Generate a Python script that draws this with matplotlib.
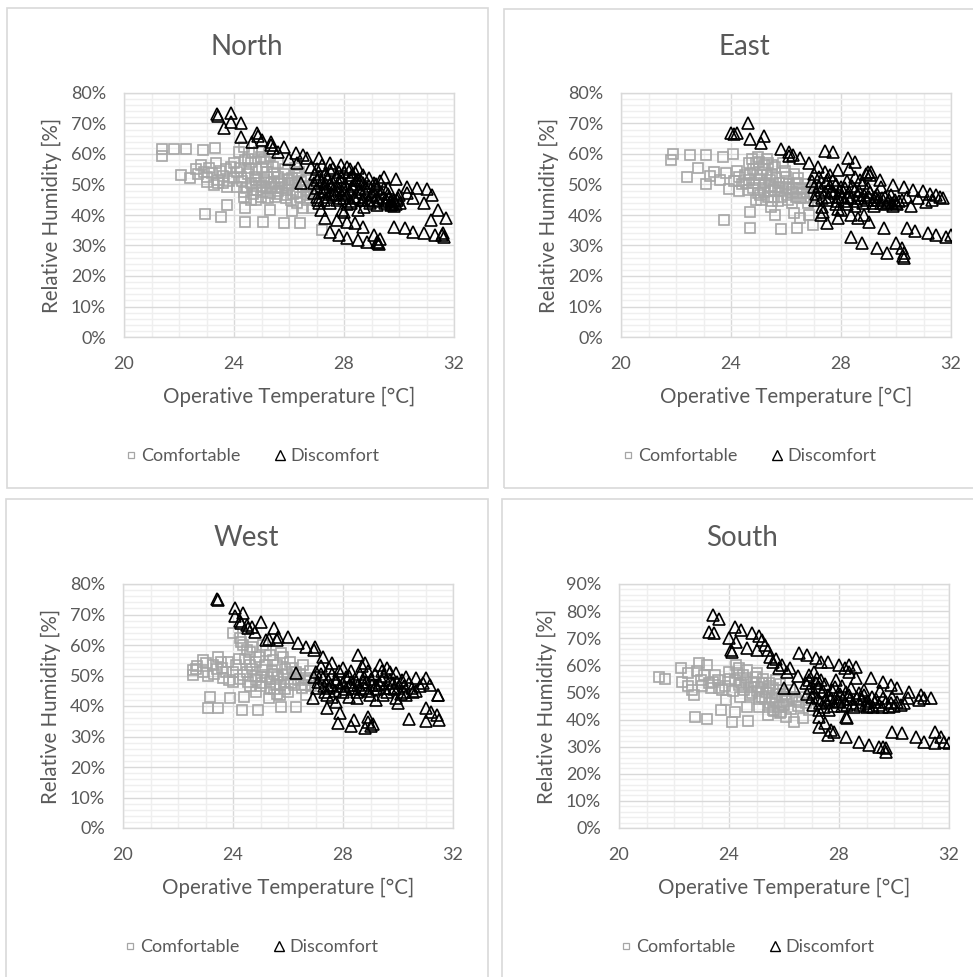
import matplotlib
matplotlib.use("Agg")
import matplotlib.pyplot as plt
from matplotlib.lines import Line2D
from matplotlib.patches import Rectangle
from matplotlib.ticker import MultipleLocator, FuncFormatter

plt.rcParams['font.family'] = ['Lato', 'DejaVu Sans']

# ---------------- data (operative temperature [degC], relative humidity [%]) ----------------
north_comf = [
    (21.37, 61.7), (21.37, 59.3), (21.8, 61.5), (22.24, 61.5), (22.87, 61.3), (23.3, 61.9),
    (22.06, 53.1), (22.39, 52.0), (22.8, 56.4), (22.9, 54.2), (23.0, 50.9), (23.4, 50.4),
    (23.33, 56.9), (23.2, 53.7), (23.6, 52.8), (23.9, 55.8), (24.0, 52.0), (24.18, 60.8),
    (24.36, 62.4), (24.67, 60.2), (24.97, 59.1), (24.6, 57.5), (25.15, 57.5), (25.4, 55.8),
    (24.1, 49.3), (24.36, 47.7), (24.6, 50.4), (24.85, 48.2), (25.1, 51.5), (25.33, 49.3),
    (25.5, 46.0), (25.7, 50.4), (25.94, 48.2), (26.1, 52.0), (26.3, 47.7), (26.5, 49.3),
    (26.8, 47.1), (25.3, 47.1), (24.97, 46.0), (24.6, 44.9), (25.6, 52.6), (26.06, 44.9),
    (26.36, 54.2), (26.67, 44.9), (23.27, 49.8), (23.76, 49.3), (24.24, 52.6), (22.95, 40.2),
    (23.54, 39.2), (23.73, 43.2), (24.39, 42.4), (24.4, 37.6), (25.05, 37.6), (25.3, 41.6),
    (25.8, 37.5), (26.1, 41.4), (26.4, 37.5), (26.5, 42.2), (26.85, 42.2), (24.36, 46.0),
    (24.8, 44.9), (27.2, 35.0), (23.5, 54.5), (23.8, 51.0), (24.5, 53.5), (24.8, 55.0),
    (25.2, 54.0), (25.8, 53.5), (26.0, 50.5), (26.6, 51.5), (25.0, 49.5), (25.6, 48.0),
    (24.2, 55.5), (24.5, 58.5), (25.0, 61.0), (25.6, 57.0), (26.2, 55.5), (22.7, 53.5),
    (23.1, 55.5), (25.9, 45.5), (26.3, 44.0), (24.8, 51.5), (25.45, 50.8), (26.9, 50.0),
]
north_comf_core = [
    (24.1, 54.0), (24.3, 51.0), (24.45, 49.0), (24.55, 55.5), (24.7, 47.0), (24.75, 52.5),
    (24.9, 50.5), (25.0, 55.5), (25.05, 47.5), (25.2, 52.5), (25.25, 45.5), (25.35, 50.5),
    (25.45, 53.5), (25.55, 47.0), (25.65, 51.0), (25.75, 49.0), (25.85, 55.0), (25.9, 46.5),
    (26.0, 49.5), (26.15, 47.0), (26.2, 50.5), (26.3, 53.0), (26.4, 46.0), (26.45, 51.0),
    (26.6, 48.0), (26.7, 46.5), (26.75, 49.5), (26.9, 48.5), (25.1, 58.5), (24.9, 60.5),
    (25.3, 59.5), (24.4, 58.0), (24.0, 57.0), (23.6, 50.5), (23.0, 52.5), (23.4, 51.5),
    (23.7, 55.0), (22.6, 55.0), (25.5, 49.0), (25.95, 51.5), (24.65, 49.5), (25.15, 49.0),
]
north_disc = [
    (23.37, 73.1), (23.4, 72.6), (23.9, 73.3), (23.64, 68.4), (23.9, 70.6), (24.24, 70.1),
    (24.27, 65.5), (24.67, 63.8), (24.82, 66.8), (24.87, 65.9), (25.33, 64.0), (25.35, 63.0),
    (25.4, 61.9), (25.8, 62.4), (26.24, 60.2), (26.42, 50.4), (26.67, 58.6), (27.1, 58.6),
    (27.5, 56.9), (27.9, 56.4), (28.1, 55.8), (28.5, 55.3), (28.9, 52.0), (29.45, 52.3),
    (29.9, 51.8), (30.3, 49.3), (30.67, 48.7), (31.0, 48.4), (31.2, 46.6), (30.5, 45.5),
    (30.9, 43.8), (29.7, 44.4), (29.2, 46.0), (28.7, 44.9), (28.36, 46.0), (28.0, 47.1),
    (27.6, 48.2), (27.3, 49.3), (27.0, 51.5), (26.9, 47.1), (27.27, 44.9), (27.76, 44.9),
    (28.24, 43.8), (28.73, 42.7), (29.2, 43.3), (29.7, 43.3), (29.94, 44.9), (27.15, 41.6),
    (27.3, 38.9), (27.76, 38.4), (28.1, 37.8), (28.4, 37.3), (28.7, 36.2), (27.5, 34.5),
    (27.8, 33.4), (28.1, 32.3), (28.5, 31.8), (28.85, 31.3), (29.1, 33.4), (29.2, 31.3),
    (29.27, 30.5), (27.94, 41.6), (28.5, 41.6), (29.8, 36.2), (30.2, 35.6), (30.5, 34.5),
    (30.9, 34.0), (31.3, 33.4), (31.6, 34.0), (31.65, 32.9), (31.7, 38.9), (31.4, 41.6),
    (31.15, 38.4), (30.3, 47.1), (29.6, 48.7), (29.1, 50.4), (28.5, 51.5), (28.0, 54.2),
    (27.5, 54.8), (26.8, 55.8), (26.5, 59.7), (26.3, 56.9), (25.0, 64.5), (25.6, 60.5),
    (26.0, 58.5), (29.3, 32.0), (28.0, 41.0), (29.25, 30.9), (31.55, 33.5),
]
north_disc_core = [
    (26.9, 50.5), (27.0, 46.0), (27.1, 44.0), (27.2, 51.0), (27.3, 48.0), (27.4, 52.0),
    (27.45, 47.0), (27.5, 50.0), (27.6, 46.5), (27.7, 52.5), (27.75, 49.5), (27.85, 45.5),
    (27.9, 51.0), (28.0, 48.5), (28.05, 50.0), (28.1, 46.5), (28.2, 52.0), (28.25, 44.5),
    (28.3, 49.5), (28.4, 45.5), (28.45, 51.5), (28.55, 48.5), (28.65, 45.0), (28.7, 50.5),
    (28.8, 47.0), (28.9, 49.5), (28.95, 44.0), (29.05, 48.0), (29.15, 50.0), (29.25, 45.0),
    (29.35, 47.5), (29.45, 49.0), (29.55, 44.5), (29.65, 46.0), (29.75, 43.5), (29.85, 44.5),
    (29.95, 45.5), (30.05, 44.0), (29.8, 43.0), (29.7, 44.8), (27.0, 55.0), (27.2, 56.5),
    (27.8, 54.0), (28.4, 54.0), (28.7, 53.0), (29.3, 51.0), (27.0, 49.0), (27.2, 47.5),
    (27.4, 46.0), (27.6, 50.5), (27.8, 48.5), (28.0, 45.5), (28.2, 48.0), (28.4, 50.0),
    (28.6, 47.5), (28.8, 49.0), (29.0, 46.5), (29.2, 48.5), (29.4, 45.5), (29.6, 47.0),
    (29.8, 45.0), (30.0, 46.5), (27.1, 52.5), (27.3, 53.5), (27.9, 52.5), (28.3, 53.0),
    (28.6, 51.0), (27.5, 44.0), (28.1, 43.5), (28.9, 45.0), (29.5, 44.0), (29.9, 43.5),
    (27.05, 45.0), (27.3, 50.5), (27.7, 47.0), (28.5, 46.0), (29.1, 44.5), (26.95, 53.5),
    (27.6, 55.5), (28.2, 55.0),
]
east_comf = [
    (21.8, 58.0), (21.9, 59.9), (22.5, 59.7), (23.1, 59.7), (23.7, 59.1), (24.06, 59.9),
    (22.4, 52.3), (23.1, 50.2), (23.37, 54.2), (23.25, 52.8), (23.8, 53.7), (24.2, 54.5),
    (23.94, 48.4), (24.3, 48.0), (24.67, 51.5), (24.67, 56.9), (24.97, 59.1), (25.2, 56.4),
    (25.1, 53.1), (24.85, 50.4), (25.4, 51.5), (25.6, 55.8), (25.7, 49.3), (26.0, 52.6),
    (26.2, 47.7), (25.8, 46.0), (25.33, 46.0), (24.97, 47.1), (26.4, 50.4), (26.6, 47.1),
    (25.45, 42.7), (24.7, 41.1), (24.7, 35.8), (23.73, 38.4), (25.6, 40.0), (26.3, 40.5),
    (26.5, 38.9), (26.85, 40.0), (26.97, 36.7), (25.8, 35.4), (26.4, 35.8), (25.1, 44.9),
    (24.6, 48.2), (25.6, 48.2), (26.06, 44.9), (24.1, 51.0), (24.5, 53.0), (24.8, 55.0),
    (25.0, 57.5), (25.3, 58.5), (25.5, 53.5), (25.9, 50.5), (26.3, 53.5), (26.7, 50.0),
    (26.5, 45.5), (25.2, 49.0), (24.9, 45.0), (25.5, 44.5), (26.1, 48.5), (24.4, 50.0),
    (23.6, 51.5), (22.8, 55.5), (26.8, 44.0), (25.9, 57.0),
]
east_comf_core = [
    (24.7, 53.5), (24.8, 49.0), (24.9, 57.0), (25.0, 51.5), (25.05, 46.5), (25.15, 55.0),
    (25.25, 50.5), (25.3, 53.0), (25.4, 48.0), (25.5, 56.5), (25.55, 46.0), (25.65, 52.0),
    (25.75, 50.5), (25.85, 48.0), (25.95, 54.5), (26.05, 46.5), (26.1, 50.0), (26.25, 49.0),
    (26.35, 46.0), (26.45, 52.0), (26.55, 48.5), (26.65, 45.5), (26.75, 47.5), (26.85, 49.0),
    (24.75, 58.5), (25.35, 57.0), (24.55, 50.5), (24.3, 52.5), (25.7, 44.5), (26.2, 44.0),
    (25.2, 47.5), (24.95, 53.0), (26.9, 46.0), (26.0, 49.0), (25.45, 49.5),
]
east_disc = [
    (24.0, 66.8), (24.2, 66.8), (24.1, 66.5), (24.6, 70.1), (24.7, 64.9), (25.2, 65.9),
    (25.1, 63.7), (25.8, 61.5), (26.1, 60.8), (26.24, 59.7), (26.1, 59.5), (26.5, 58.6),
    (26.85, 56.9), (27.4, 61.1), (27.7, 60.5), (28.24, 58.6), (28.5, 57.5), (27.9, 54.8),
    (28.97, 54.2), (29.1, 54.2), (29.45, 49.3), (29.9, 49.8), (30.3, 49.1), (30.6, 48.2),
    (30.97, 48.0), (31.45, 46.6), (31.7, 45.5), (30.55, 43.0), (31.1, 44.4), (27.15, 55.8),
    (27.4, 54.2), (27.5, 51.5), (28.5, 52.6), (27.27, 48.2), (27.76, 47.1), (28.24, 46.0),
    (28.73, 45.5), (29.2, 44.9), (29.7, 44.4), (30.2, 44.9), (27.5, 44.9), (28.0, 49.3),
    (28.5, 48.2), (28.97, 48.7), (27.0, 49.3), (27.27, 40.0), (27.5, 37.3), (27.9, 38.9),
    (28.36, 40.0), (28.85, 40.0), (29.0, 37.8), (28.36, 32.9), (28.75, 30.7), (29.3, 29.1),
    (29.67, 27.4), (29.55, 35.6), (30.0, 30.7), (30.2, 29.1), (30.3, 27.4), (30.3, 26.0),
    (30.4, 35.6), (30.7, 34.9), (31.15, 34.0), (31.45, 33.4), (31.8, 32.9), (32.0, 33.4),
    (28.6, 39.0), (28.0, 41.5), (30.25, 26.7), (31.6, 46.0), (31.25, 47.0),
]
east_disc_core = [
    (27.1, 47.0), (27.3, 45.5), (27.6, 49.5), (27.9, 46.0), (28.1, 44.5), (28.3, 47.5),
    (28.6, 46.5), (28.8, 44.0), (29.0, 46.0), (29.3, 47.0), (29.5, 45.5), (29.8, 46.5),
    (30.0, 44.0), (30.4, 46.0), (27.2, 52.5), (27.7, 51.5), (28.2, 51.0), (28.8, 50.5),
    (29.4, 51.5), (27.0, 53.5), (27.3, 42.5), (27.8, 43.5), (28.5, 43.0), (29.2, 43.0),
    (29.9, 43.0), (30.8, 45.5), (31.3, 45.0), (26.95, 51.0), (27.05, 45.0), (27.2, 49.5),
    (27.4, 47.5), (27.45, 50.5), (27.55, 46.0), (27.65, 48.0), (27.8, 50.0), (27.85, 44.5),
    (27.95, 48.0), (28.05, 46.0), (28.15, 49.0), (28.2, 43.5), (28.35, 45.5), (28.4, 49.5),
    (28.55, 44.5), (28.65, 48.0), (28.7, 51.5), (28.85, 46.5), (28.95, 45.0), (29.05, 47.5),
    (29.15, 44.0), (29.25, 46.0), (29.35, 45.0), (29.45, 43.8), (29.6, 46.0), (29.65, 43.5),
    (29.75, 45.0), (29.85, 44.0), (29.95, 45.0), (30.05, 43.5), (30.1, 44.5), (28.9, 53.5),
    (29.05, 53.0), (27.6, 53.0), (28.3, 55.0), (27.35, 41.0), (27.9, 42.0),
]
west_comf = [
    (22.55, 51.8), (22.55, 50.2), (22.9, 55.1), (22.9, 51.3), (23.27, 53.4), (23.45, 56.2),
    (23.6, 52.3), (24.0, 51.3), (24.0, 63.8), (24.24, 62.2), (24.36, 60.0), (24.6, 57.8),
    (24.85, 54.5), (25.1, 51.8), (25.33, 56.7), (25.6, 53.4), (25.8, 50.2), (26.06, 54.5),
    (26.3, 51.3), (26.55, 53.4), (25.7, 46.9), (25.33, 48.0), (24.85, 48.5), (24.36, 50.2),
    (24.0, 48.0), (23.64, 49.1), (23.15, 43.1), (23.45, 39.5), (23.1, 39.5), (23.9, 42.7),
    (24.33, 38.7), (24.4, 43.1), (24.9, 38.7), (25.3, 42.5), (25.75, 39.8), (26.3, 39.8),
    (26.67, 43.6), (25.7, 43.6), (24.85, 44.7), (26.2, 46.9), (26.67, 49.1), (24.6, 53.4),
    (25.1, 60.0), (22.7, 53.0), (23.1, 50.0), (23.8, 54.5), (24.2, 55.5), (24.5, 51.0),
    (25.0, 49.5), (25.5, 50.5), (25.9, 52.0), (26.2, 49.0), (25.5, 45.5), (25.0, 46.5),
    (24.6, 46.5), (26.0, 44.5), (26.5, 46.0), (25.2, 58.0), (25.8, 56.0), (24.7, 59.5),
    (23.4, 52.0), (26.8, 51.5),
]
west_comf_core = [
    (23.0, 54.0), (23.3, 50.5), (23.55, 54.5), (23.75, 51.0), (23.85, 48.5), (24.1, 53.5),
    (24.25, 49.0), (24.45, 55.5), (24.55, 48.0), (24.7, 52.0), (24.8, 50.0), (24.95, 56.0),
    (25.05, 47.5), (25.15, 53.5), (25.25, 49.5), (25.4, 51.5), (25.45, 55.0), (25.55, 47.0),
    (25.65, 49.5), (25.75, 57.5), (25.85, 48.0), (25.95, 50.5), (26.1, 47.5), (26.15, 52.5),
    (26.35, 48.5), (26.45, 50.5), (26.6, 47.0), (26.75, 48.5), (25.6, 44.0), (25.9, 45.5),
    (24.3, 61.0), (24.5, 58.5), (22.65, 52.0), (25.35, 45.5), (26.85, 46.5),
]
west_disc = [
    (23.4, 75.1), (23.45, 74.6), (24.06, 72.2), (24.36, 70.4), (24.06, 69.4), (24.3, 67.1),
    (24.55, 65.5), (24.8, 64.4), (25.03, 67.4), (25.5, 65.5), (25.2, 61.6), (25.6, 61.6),
    (25.65, 62.5), (26.0, 62.7), (26.36, 60.5), (26.67, 59.5), (26.97, 59.5), (27.27, 56.2),
    (26.3, 50.7), (27.6, 54.0), (28.0, 52.3), (28.55, 56.7), (28.8, 54.0), (29.33, 53.4),
    (29.7, 51.3), (29.94, 50.7), (30.3, 49.6), (30.67, 49.1), (31.03, 49.1), (31.15, 46.9),
    (31.45, 43.6), (27.27, 49.1), (27.76, 48.0), (28.24, 46.9), (28.73, 48.0), (29.2, 46.9),
    (29.7, 45.8), (30.2, 44.7), (30.55, 44.7), (27.0, 51.3), (27.5, 45.8), (28.0, 44.7),
    (28.5, 44.7), (28.97, 43.6), (29.45, 43.6), (29.94, 42.5), (26.9, 42.5), (27.4, 39.2),
    (27.9, 37.6), (28.4, 35.4), (28.9, 36.5), (28.9, 34.9), (27.76, 41.4), (28.5, 42.5),
    (27.8, 34.3), (28.3, 33.3), (28.8, 32.8), (29.1, 34.0), (29.0, 33.5), (30.4, 35.6),
    (31.0, 35.2), (31.0, 39.2), (31.2, 38.1), (31.4, 37.0), (31.5, 35.4), (31.45, 43.6),
    (26.95, 58.5), (24.7, 66.0), (25.3, 62.0), (24.5, 66.5), (24.25, 68.0),
]
west_disc_core = [
    (27.1, 48.0), (27.3, 46.5), (27.6, 50.5), (27.9, 46.5), (28.1, 49.5), (28.3, 48.0),
    (28.6, 50.5), (28.8, 46.0), (29.0, 49.0), (29.3, 47.5), (29.5, 50.0), (29.8, 47.5),
    (30.0, 46.0), (30.4, 47.5), (30.8, 46.5), (27.2, 53.0), (27.5, 52.5), (28.3, 51.5),
    (28.9, 51.5), (29.6, 52.5), (27.4, 43.5), (28.2, 43.0), (29.2, 42.0), (30.0, 41.0),
    (26.95, 49.5), (27.05, 46.0), (27.2, 50.5), (27.35, 44.5), (27.45, 48.5), (27.55, 47.0),
    (27.7, 45.0), (27.75, 49.0), (27.85, 51.5), (28.0, 47.5), (28.1, 45.5), (28.2, 50.0),
    (28.35, 46.0), (28.45, 49.0), (28.55, 47.0), (28.65, 45.5), (28.75, 49.5), (28.85, 48.0),
    (28.95, 45.0), (29.05, 47.0), (29.15, 50.5), (29.25, 45.5), (29.4, 48.5), (29.5, 46.0),
    (29.6, 44.5), (29.7, 48.5), (29.85, 45.5), (29.95, 48.0), (30.1, 44.0), (30.2, 46.5),
    (30.3, 43.5), (30.5, 46.0), (30.65, 45.0), (28.7, 53.0), (29.4, 51.5), (30.15, 48.5),
    (30.9, 47.5), (27.6, 43.0),
]
south_comf = [
    (21.45, 55.8), (21.66, 54.8), (22.24, 58.9), (22.5, 57.1), (22.3, 54.0), (22.67, 50.9),
    (22.73, 49.1), (22.9, 60.7), (23.2, 60.1), (22.97, 54.6), (23.27, 53.4), (23.5, 56.4),
    (23.64, 51.5), (24.0, 57.7), (24.24, 60.1), (24.5, 56.4), (24.67, 58.3), (24.36, 52.7),
    (24.8, 52.1), (24.97, 55.8), (25.2, 53.4), (25.45, 50.9), (25.7, 54.6), (25.94, 48.4),
    (25.8, 44.8), (25.5, 46.0), (25.2, 48.4), (24.85, 49.7), (26.2, 50.9), (26.42, 47.2),
    (26.67, 48.4), (23.76, 50.9), (23.9, 47.2), (23.4, 54.0), (22.76, 40.8), (23.2, 40.1),
    (23.7, 43.5), (24.2, 42.7), (24.1, 39.2), (24.7, 39.6), (24.67, 44.8), (25.1, 44.8),
    (25.4, 41.7), (25.9, 42.9), (26.36, 39.2), (26.7, 40.5), (26.9, 43.5), (26.06, 41.1),
    (24.2, 54.5), (24.6, 54.0), (25.0, 50.5), (25.5, 52.5), (25.8, 51.0), (25.6, 43.5),
    (25.3, 47.5), (24.4, 48.5), (23.0, 52.5), (26.0, 45.5), (26.5, 45.0), (25.0, 57.0),
]
south_comf_core = [
    (23.1, 56.5), (23.35, 51.5), (23.6, 54.5), (23.85, 52.5), (24.05, 55.0), (24.15, 50.5),
    (24.3, 57.0), (24.45, 53.5), (24.55, 51.0), (24.65, 55.5), (24.75, 49.0), (24.9, 54.0),
    (25.05, 52.0), (25.1, 47.5), (25.25, 55.0), (25.35, 50.0), (25.45, 53.5), (25.55, 48.0),
    (25.6, 51.5), (25.7, 46.5), (25.75, 49.5), (25.85, 53.0), (25.95, 45.5), (26.05, 49.5),
    (26.1, 47.0), (26.3, 48.5), (26.55, 46.5), (26.8, 46.0), (25.65, 43.0), (25.85, 42.5),
    (24.35, 59.0), (22.5, 52.5), (22.85, 58.0), (25.4, 44.5), (26.25, 44.0),
]
south_disc = [
    (23.4, 78.6), (23.64, 77.0), (23.27, 72.4), (23.45, 72.0), (24.2, 74.0), (24.45, 73.0),
    (24.0, 70.0), (24.24, 68.7), (24.06, 65.7), (24.67, 66.3), (24.85, 71.8), (25.1, 70.8),
    (25.2, 69.3), (25.03, 65.7), (25.4, 65.7), (25.5, 63.2), (25.6, 61.4), (25.94, 60.1),
    (26.2, 58.9), (26.55, 64.4), (26.85, 63.8), (27.15, 62.6), (27.33, 61.4), (27.6, 61.4),
    (28.0, 60.1), (28.36, 60.1), (28.6, 59.5), (28.36, 57.7), (28.6, 55.2), (27.88, 54.6),
    (29.15, 55.2), (29.6, 54.0), (29.9, 52.7), (30.1, 51.5), (30.55, 50.3), (30.97, 49.1),
    (31.33, 47.8), (29.94, 48.4), (30.36, 46.0), (30.9, 47.2), (26.0, 51.5), (26.36, 51.5),
    (26.8, 53.4), (27.27, 43.5), (27.27, 41.1), (27.5, 38.6), (27.7, 36.1), (27.6, 34.3),
    (27.27, 37.4), (27.8, 35.4), (28.24, 41.1), (28.24, 33.7), (28.73, 31.8), (29.1, 30.6),
    (29.45, 30.0), (29.7, 29.4), (29.7, 28.0), (29.6, 30.0), (29.94, 35.5), (30.3, 34.9),
    (30.8, 33.7), (31.1, 31.8), (31.5, 35.5), (31.7, 33.7), (31.8, 31.8), (32.0, 31.2),
    (31.5, 31.2), (25.8, 59.0), (26.1, 57.5), (26.5, 56.0), (26.9, 54.5), (25.3, 67.5),
    (25.7, 62.5), (28.2, 59.0), (28.3, 40.5), (24.1, 65.0), (31.1, 48.0),
]
south_disc_core = [
    (27.0, 48.4), (27.5, 47.2), (28.0, 46.6), (28.5, 46.0), (28.97, 46.0), (29.45, 45.4),
    (29.2, 48.4), (28.73, 49.7), (28.24, 50.3), (27.76, 50.9), (27.27, 52.1), (27.1, 50.0),
    (27.3, 46.0), (27.6, 49.0), (27.9, 48.5), (28.1, 45.0), (28.4, 47.5), (28.8, 47.5),
    (29.0, 44.5), (29.3, 46.5), (29.7, 46.5), (30.0, 45.0), (30.5, 48.0), (27.2, 55.5),
    (27.5, 53.0), (28.1, 52.5), (28.9, 51.0), (29.5, 50.5), (26.95, 51.5), (27.05, 45.5),
    (27.15, 53.5), (27.25, 48.0), (27.4, 50.5), (27.45, 44.5), (27.55, 46.5), (27.7, 48.0),
    (27.8, 45.0), (27.85, 52.0), (27.95, 47.0), (28.05, 49.5), (28.15, 47.5), (28.3, 45.5),
    (28.35, 49.0), (28.45, 51.5), (28.55, 44.8), (28.65, 48.0), (28.75, 45.5), (28.9, 49.0),
    (29.05, 47.0), (29.1, 45.0), (29.25, 44.5), (29.35, 47.5), (29.55, 44.8), (29.6, 48.0),
    (29.8, 44.5), (29.9, 46.0), (30.1, 46.5), (30.25, 45.5), (26.9, 56.5), (27.1, 57.5),
    (27.35, 54.5), (26.85, 49.5), (27.65, 43.5),
]

titles = ["North", "East", "West", "South"]
panels_comf = [north_comf + north_comf_core, east_comf + east_comf_core,
               west_comf + west_comf_core, south_comf + south_comf_core]
panels_disc = [north_disc + north_disc_core, east_disc + east_disc_core,
               west_disc + west_disc_core, south_disc + south_disc_core]
y_max = [80, 80, 80, 90]
x_ticks = [20, 24, 28, 32]
series_names = ["Comfortable", "Discomfort"]
x_label = "Operative Temperature [°C]"
y_label = "Relative Humidity [%]"

# ---------------- layout ----------------
W, H = 973, 977
fig = plt.figure(figsize=(W / 100, H / 100), dpi=100)
fig.patch.set_facecolor("white")

ax_px = [(124, 93, 454, 337), (621, 93, 951, 337), (123, 584, 453, 828), (619, 584, 949, 828)]
panel_px = [(7, 8, 488, 488), (504, 9, 990, 488), (6, 499, 488, 990), (502, 499, 990, 990)]

TXT = "#595959"
GRID_MAJ = "#D9D9D9"
GRID_MIN = "#EFEFEF"
COMF_C = "#A6A6A6"

for (l, t, r, b) in panel_px:
    fig.patches.append(Rectangle((l / W, 1 - b / H), (r - l) / W, (b - t) / H,
                                 transform=fig.transFigure, fill=False,
                                 edgecolor=GRID_MAJ, linewidth=1.2, clip_on=False))

for i in range(4):
    l, t, r, b = ax_px[i]
    ax = fig.add_axes([l / W, 1 - b / H, (r - l) / W, (b - t) / H])
    comf = panels_comf[i]
    disc = panels_disc[i]
    ax.plot([p[0] for p in comf], [p[1] for p in comf], linestyle="none", marker="s",
            markersize=6.6, markerfacecolor="none", markeredgecolor=COMF_C,
            markeredgewidth=1.2, zorder=3)
    ax.plot([p[0] for p in disc], [p[1] for p in disc], linestyle="none", marker="^",
            markersize=8.5, markerfacecolor="none", markeredgecolor="black",
            markeredgewidth=1.2, zorder=4)
    ax.set_xlim(20, 32)
    ax.set_ylim(0, y_max[i])
    ax.set_xticks(x_ticks)
    ax.xaxis.set_minor_locator(MultipleLocator(1))
    ax.yaxis.set_major_locator(MultipleLocator(10))
    ax.yaxis.set_minor_locator(MultipleLocator(2))
    ax.yaxis.set_major_formatter(FuncFormatter(lambda v, p: f"{int(round(v))}%"))
    ax.grid(which="minor", color=GRID_MIN, linewidth=1.0, zorder=0)
    ax.grid(which="major", color=GRID_MAJ, linewidth=1.0, zorder=1)
    ax.set_axisbelow(True)
    for s in ax.spines.values():
        s.set_color(GRID_MAJ)
        s.set_linewidth(1.0)
    ax.tick_params(which="both", length=0)
    ax.tick_params(axis="x", pad=14, labelsize=13, labelcolor=TXT)
    ax.tick_params(axis="y", pad=13, labelsize=13, labelcolor=TXT)
    ax.set_xlabel(x_label, fontsize=14.8, color=TXT)
    ax.xaxis.set_label_coords(0.5, -0.246)
    ax.xaxis.label.set_va("center")
    ax.set_ylabel(y_label, fontsize=14.8, color=TXT)
    ax.yaxis.set_label_coords(-0.218, 0.5)
    ax.yaxis.label.set_va("center")
    ax.text(0.373, 1.189, titles[i], transform=ax.transAxes, ha="center", va="center",
            fontsize=20, color=TXT)
    handles = [
        Line2D([], [], linestyle="none", marker="s", markersize=5, markerfacecolor="none",
               markeredgecolor=COMF_C, markeredgewidth=0.9),
        Line2D([], [], linestyle="none", marker="^", markersize=6.5, markerfacecolor="none",
               markeredgecolor="black", markeredgewidth=1.0),
    ]
    leg = ax.legend(handles, series_names, loc="center", bbox_to_anchor=(0.388, -0.488),
                    ncol=2, frameon=False, fontsize=13, handlelength=0.7,
                    handletextpad=0.25, columnspacing=1.8)
    for txt in leg.get_texts():
        txt.set_color(TXT)

fig.savefig("out.png", dpi=100, facecolor="white")
